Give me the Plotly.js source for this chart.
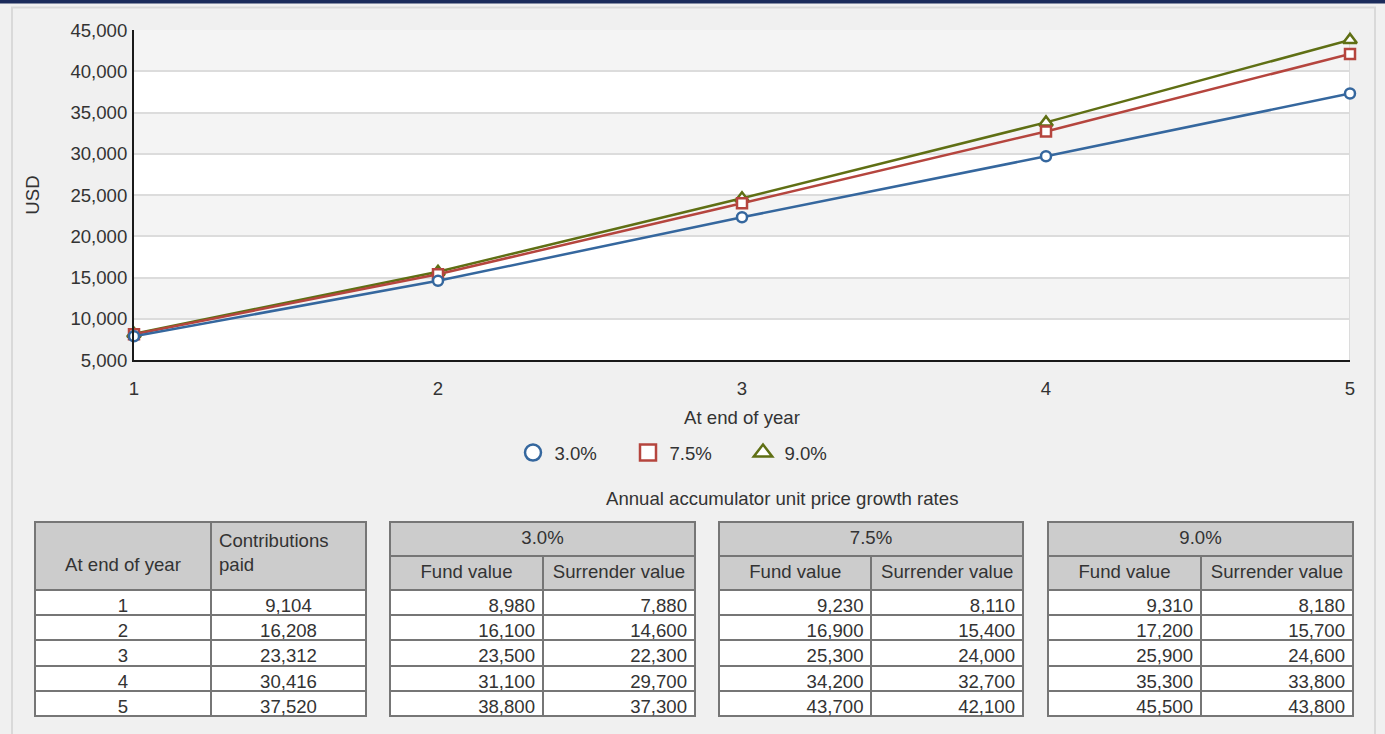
<!DOCTYPE html>
<html><head><meta charset="utf-8">
<script src="https://cdn.plot.ly/plotly-3.0.1.min.js"></script>
<style>html,body{margin:0;padding:0;background:#f0f0f0;overflow:hidden;} #chart{width:1385px;height:734px;}</style>
</head><body><div id="chart"></div><script>
// ---- data ----
const years = [1, 2, 3, 4, 5];
const rateLabels = ['3.0%', '7.5%', '9.0%'];
const contributions = [9104, 16208, 23312, 30416, 37520];
const fund30 = [8980, 16100, 23500, 31100, 38800];
const surr30 = [7880, 14600, 22300, 29700, 37300];
const fund75 = [9230, 16900, 25300, 34200, 43700];
const surr75 = [8110, 15400, 24000, 32700, 42100];
const fund90 = [9310, 17200, 25900, 35300, 45500];
const surr90 = [8180, 15700, 24600, 33800, 43800];
const yTicks = [5000, 10000, 15000, 20000, 25000, 30000, 35000, 40000, 45000];
const colHeadYear = 'At end of year';
const colHeadContrib = 'Contributions<br>paid';
const colHeadFund = 'Fund value';
const colHeadSurr = 'Surrender value';
const nb = s => s.replace(/ /g, '\u00a0');

// ---- styling ----
const W = 1385, H = 734;
const FONT = 'Liberation Sans, Arial, Helvetica, sans-serif';
const FS = 18.6;
const TXT = '#333333';
const colors = ['#35679e', '#b5453e', '#5f6f14'];
const symbols = ['circle', 'square', 'triangle-up'];
const px = v => v / W;
const py = v => 1 - v / H;
const fmt = v => v.toLocaleString('en-US');

const surrSeries = [surr30, surr75, surr90];
const fundSeries = [fund30, fund75, fund90];

const traces = [];
// lines: draw 9.0% first, then 7.5%, then 3.0% on top
[2, 1, 0].forEach(i => {
  traces.push({
    type: 'scatter', mode: 'lines+markers', x: years, y: surrSeries[i],
    name: rateLabels[i], showlegend: false, cliponaxis: false, hoverinfo: 'x+y',
    line: {color: colors[i], width: 2.5},
    marker: {symbol: symbols[i], size: i === 2 ? 12 : 10, color: '#ffffff', line: {color: colors[i], width: 2.5}}
  });
});
// legend-only entries
[0, 1, 2].forEach(i => {
  traces.push({
    type: 'scatter', mode: 'markers', x: [null], y: [null], name: rateLabels[i],
    marker: {symbol: symbols[i], size: 16, color: '#ffffff', line: {color: colors[i], width: 2.5}}
  });
});

const lineCol = '#767676';
const headFill = '#cccccc';
function table(x0, x1, y0, y1, header, cells, widths, hAlign, cAlign, hHeight) {
  return {
    type: 'table',
    domain: {x: [px(x0), px(x1)], y: [py(y1), py(y0)]},
    columnwidth: widths,
    header: {values: header, height: hHeight, align: hAlign, fill: {color: headFill},
      line: {color: lineCol, width: 2}, font: {family: FONT, size: FS, color: TXT}},
    cells: {values: cells, height: 25.2, align: cAlign, fill: {color: '#ffffff'},
      line: {color: lineCol, width: 2}, font: {family: FONT, size: FS, color: TXT}}
  };
}

// first table
traces.push(table(35, 366, 522, 734, ['\u00a0<br>' + nb(colHeadYear), colHeadContrib],
  [years.map(String), contributions.map(fmt)], [176, 155], ['center', 'left'], ['center', 'center'], 68));

const groupX = [[390, 695], [719, 1024], [1048, 1353]];
groupX.forEach((g, i) => {
  traces.push(table(g[0], g[1], 522, 556, [rateLabels[i]], [[]], [1], ['center'], ['center'], 34));
  traces.push(table(g[0], g[1], 556, 734, [nb(colHeadFund), nb(colHeadSurr)],
    [fundSeries[i].map(fmt), surrSeries[i].map(fmt)], [153, 152], ['center', 'center'], ['right', 'right'], 34));
});

const shapes = [];
// top navy bar and panel border
shapes.push({type: 'rect', xref: 'paper', yref: 'paper', x0: 0, x1: 1, y0: py(3.5), y1: 1, fillcolor: '#1b2b5b', line: {width: 0}, layer: 'below'});
shapes.push({type: 'rect', xref: 'paper', yref: 'paper', x0: px(12), x1: px(1375), y0: py(740), y1: py(7.5), fillcolor: 'rgba(0,0,0,0)', line: {color: '#d9d9d9', width: 2}, layer: 'below'});
// alternating bands
for (let k = 1; k < yTicks.length - 1; k += 2) {
  shapes.push({type: 'rect', xref: 'x', yref: 'y', x0: years[0], x1: years[years.length - 1], y0: yTicks[k], y1: yTicks[k + 1], fillcolor: '#f4f4f4', line: {width: 0}, layer: 'below'});
}
// right border of plot area
shapes.push({type: 'line', xref: 'x', yref: 'y', x0: years[years.length - 1], x1: years[years.length - 1], y0: yTicks[0], y1: yTicks[yTicks.length - 1], line: {color: '#dcdcdc', width: 2}, layer: 'below'});

const layout = {
  width: W, height: H, autosize: false,
  margin: {l: 0, r: 0, t: 0, b: 0, pad: 0},
  paper_bgcolor: '#f0f0f0', plot_bgcolor: '#ffffff',
  font: {family: FONT, size: FS, color: TXT},
  showlegend: true,
  xaxis: {
    domain: [px(134), px(1350)], range: [1, 5], tickvals: years, ticktext: years.map(String),
    showgrid: false, zeroline: false, showline: true, linecolor: '#1a1a1a', linewidth: 2,
    ticks: 'outside', ticklen: 11, tickcolor: 'rgba(0,0,0,0)',
    tickfont: {family: FONT, size: FS, color: TXT},
    title: {text: colHeadYear, standoff: 13, font: {family: FONT, size: FS, color: TXT}},
    fixedrange: true, automargin: false
  },
  yaxis: {
    domain: [py(360), py(30)], range: [5000, 45000], tickvals: yTicks, tickformat: ',d',
    showgrid: true, gridcolor: '#dcdcdc', gridwidth: 2, zeroline: false,
    showline: true, linecolor: '#1a1a1a', linewidth: 2,
    ticks: 'outside', ticklen: 1, tickcolor: 'rgba(0,0,0,0)',
    tickfont: {family: FONT, size: FS, color: TXT},
    title: {text: 'USD', standoff: 26, font: {family: FONT, size: FS, color: TXT}},
    fixedrange: true, automargin: false
  },
  legend: {
    orientation: 'h', x: px(684), xanchor: 'center', y: py(453), yanchor: 'middle',
    bgcolor: 'rgba(0,0,0,0)', font: {family: FONT, size: FS, color: TXT},
    itemwidth: 33, entrywidth: 67, entrywidthmode: 'pixels', itemclick: false, itemdoubleclick: false
  },
  annotations: [{
    xref: 'paper', yref: 'paper', x: px(782), y: py(498), xanchor: 'center', yanchor: 'middle',
    text: 'Annual accumulator unit price growth rates', showarrow: false,
    font: {family: FONT, size: FS, color: TXT}
  }],
  shapes: shapes
};

Plotly.newPlot('chart', traces, layout, {displayModeBar: false, staticPlot: false, responsive: false});
</script></body></html>
